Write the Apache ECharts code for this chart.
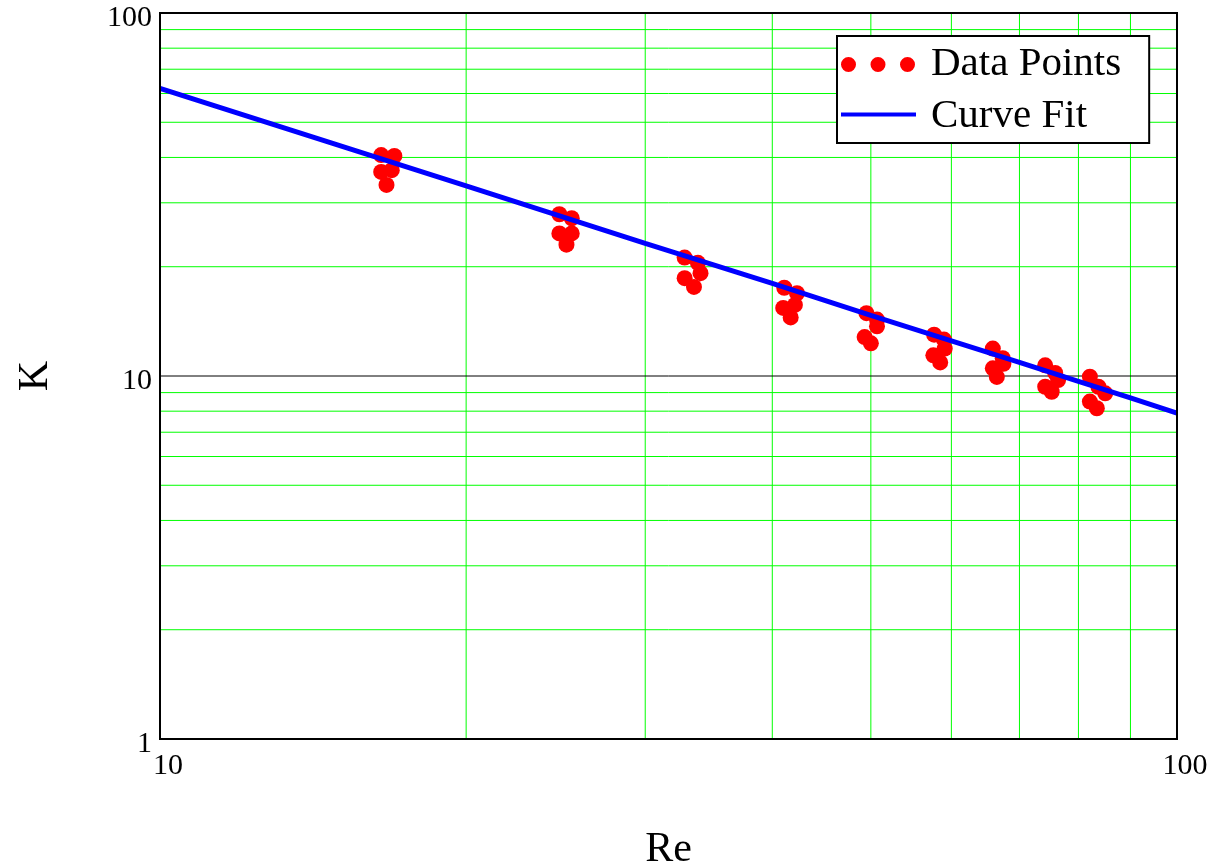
<!DOCTYPE html>
<html>
<head>
<meta charset="utf-8">
<script src="https://cdn.jsdelivr.net/npm/echarts@6/dist/echarts.min.js"></script>
<style>
html,body{margin:0;padding:0;background:#fff;}
#chart{width:1213px;height:867px;}
</style>
</head>
<body>
<div id="chart"></div>
<script>
// Measured data points (Re, K)
var pointRe = [16.5,17.0,16.5,16.9,16.7, 24.7,25.4,24.7,25.4,25.1, 32.8,33.8,32.8,34.0,33.5,
               41.1,42.3,41.0,42.1,41.7, 49.5,50.7,49.3,50.7,50.0, 57.7,59.0,59.1,57.6,58.5,
               65.9,67.4,67.5,65.9,66.5, 74.2,75.9,76.4,74.2,75.3, 82.1,83.7,85.0,82.1,83.4];
var pointK  = [40.6,40.4,36.5,36.9,33.6, 27.9,27.2,24.7,24.7,23.0, 21.2,20.5,18.6,19.2,17.6,
               17.5,16.9,15.4,15.7,14.5, 14.9,14.3,12.8,13.7,12.3, 13.0,12.6,11.9,11.4,10.9,
               11.9,11.2,10.8,10.5,9.94, 10.7,10.2,9.75,9.34,9.05, 9.96,9.34,8.96,8.50,8.15];
// Curve fit
var fitRe = [10,20,30,40,50,60,70,80,90,100];
var fitK  = [62.0,33.4,23.2,18.0,14.7,12.5,10.9,9.67,8.7,7.9];
// Grid lines
var xMinorGrid = [20,30,40,50,60,70,80,90];
var yMinorGrid = [2,3,4,5,6,7,8,9,20,30,40,50,60,70,80,90];
var yMajorGrid = [10];
var xRange = [10,100];
var yRange = [1,100];

var FONT = 'Liberation Serif';
var series = [];
xMinorGrid.forEach(function(v){
  series.push({type:'line', silent:true, symbol:'none', z:1, animation:false,
    lineStyle:{color:'#00ff00', width:1}, data:[[v,yRange[0]],[v,yRange[1]]]});
});
yMinorGrid.forEach(function(v){
  series.push({type:'line', silent:true, symbol:'none', z:1, animation:false,
    lineStyle:{color:'#00ff00', width:1}, data:[[xRange[0],v],[xRange[1],v]]});
});
yMajorGrid.forEach(function(v){
  series.push({type:'line', silent:true, symbol:'none', z:1, animation:false,
    lineStyle:{color:'#000000', width:1}, data:[[xRange[0],v],[xRange[1],v]]});
});
series.push({
  name:'Data Points', type:'scatter', z:3, symbol:'circle', symbolSize:16,
  itemStyle:{color:'#ff0000', opacity:1},
  data: pointRe.map(function(r,i){return [r, pointK[i]];})
});
series.push({
  name:'Curve Fit', type:'line', z:4, symbol:'none', smooth:false,
  lineStyle:{color:'#0000ff', width:5}, itemStyle:{color:'#0000ff'},
  data: fitRe.map(function(r,i){return [r, fitK[i]];})
});

var chart = echarts.init(document.getElementById('chart'), null, {renderer:'canvas'});
chart.setOption({
  animation:false,
  backgroundColor:'#ffffff',
  grid:{left:160, top:13, right:36, bottom:128, show:true, borderColor:'#000', borderWidth:2, z:10,
        containLabel:false, outerBoundsMode:'none'},
  legend:{
    orient:'vertical', left:837, top:36, z:20,
    backgroundColor:'#ffffff', borderColor:'#000', borderWidth:2,
    padding:[8,28,6,4], itemGap:11, itemWidth:85, itemHeight:15,
    textStyle:{fontFamily:FONT, fontSize:41, color:'#000'},
    data:[
      {name:'Data Points', icon:'path://M0,0 M85,15 M0,7.5a7.5,7.5 0 1,0 15,0a7.5,7.5 0 1,0 -15,0z M29.5,7.5a7.5,7.5 0 1,0 15,0a7.5,7.5 0 1,0 -15,0z M59,7.5a7.5,7.5 0 1,0 15,0a7.5,7.5 0 1,0 -15,0z'},
      {name:'Curve Fit', icon:'path://M0,0 M85,15 M0,3.5h75v4h-75z'}
    ]
  },
  xAxis:{
    type:'log', logBase:10, min:xRange[0], max:xRange[1],
    name:'Re', nameLocation:'middle', nameGap:90,
    nameTextStyle:{fontFamily:FONT, fontSize:42, color:'#000'},
    axisLine:{show:false}, axisTick:{show:false}, splitLine:{show:false},
    axisLabel:{fontFamily:FONT, fontSize:30, color:'#000', margin:12, padding:[0,0,0,16]}
  },
  yAxis:{
    type:'log', logBase:10, min:yRange[0], max:yRange[1],
    name:'K', nameLocation:'middle', nameGap:103,
    nameTextStyle:{fontFamily:FONT, fontSize:42, color:'#000'},
    axisLine:{show:false}, axisTick:{show:false}, splitLine:{show:false},
    axisLabel:{color:'#000', margin:8, formatter:'{a|{value}}',
      rich:{a:{fontFamily:FONT, fontSize:30, color:'#000', padding:[10,0,0,0]}}}
  },
  series: series
});
</script>
</body>
</html>
